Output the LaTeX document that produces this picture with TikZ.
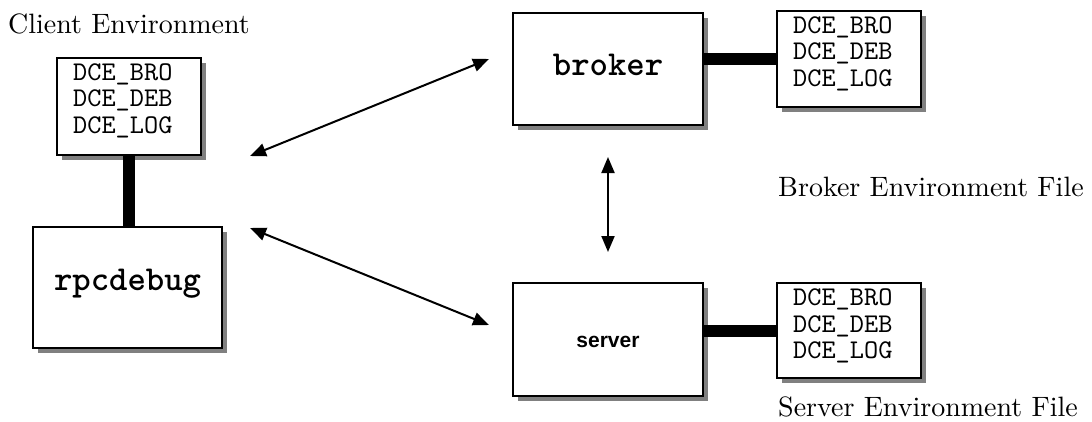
\documentclass[tikz,border=0pt]{standalone}
\usepackage{fontspec}
\newfontfamily\capfont{lmroman10-regular.otf}
\newfontfamily\envmono{lmmono10-regular.otf}
\newfontfamily\procmono{lmmonolt10-bold.otf}
\newfontfamily\labelsans{Liberation Sans}
\usetikzlibrary{shadows,arrows.meta}

\begin{document}
\begin{tikzpicture}[x=1pt,y=-1pt,
  box/.style={draw=black, line width=2pt, fill=white, inner sep=0pt,
    drop shadow={shadow xshift=4.5pt, shadow yshift=-4.5pt, fill=black!50, opacity=1}},
  envbox/.style={box, minimum width=144pt},
  envtext/.style={anchor=north west, inner sep=0pt, align=left,
    font=\fontsize{27}{26.5}\selectfont\envmono},
  procbox/.style={box, font=\fontsize{35}{40}\selectfont\procmono},
  bar/.style={line width=12pt},
  link/.style={line width=2pt, {Triangle[length=16pt,width=13pt]}-{Triangle[length=16pt,width=13pt]}},
  caption/.style={anchor=base west, inner sep=0pt, font=\fontsize{28}{32}\selectfont\capfont}
]
\useasboundingbox (0,0) rectangle (1092,421);

% environment files
\node[envbox, minimum height=97pt] (cenv) at (129,106.5) {};
\node[envbox, minimum height=96pt] (benv) at (849,59) {};
\node[envbox, minimum height=95pt] (senv) at (849,330.5) {};
\node[envtext] (cvars) at ([xshift=17pt,yshift=-6.5pt]cenv.north west) {DCE\_BRO\\DCE\_DEB\\DCE\_LOG};
\node[envtext] (bvars) at ([xshift=17pt,yshift=-6.5pt]benv.north west) {DCE\_BRO\\DCE\_DEB\\DCE\_LOG};
\node[envtext] (svars) at ([xshift=17pt,yshift=-6.5pt]senv.north west) {DCE\_BRO\\DCE\_DEB\\DCE\_LOG};

% processes
\node[procbox, minimum width=189pt, minimum height=121pt, text height=10pt, text depth=5pt]
  (rpc) at (127.5,287.5) {rpcdebug};
\node[procbox, minimum width=190pt, minimum height=112pt, text height=14pt, text depth=2pt]
  (broker) at (608,69) {broker};
\node[box, minimum width=190pt, minimum height=113pt, text height=15pt, text depth=0pt,
  font=\fontsize{21}{25}\selectfont\labelsans\bfseries]
  (server) at (608,339.5) {server};

% thick links to the environment files
\draw[bar] (cenv.south) -- (cenv.south |- rpc.north);
\draw[bar] (broker.east |- benv.west) -- (benv.west);
\draw[bar] (server.east |- senv.west) -- (senv.west);

% captions
\node[caption] (clab) at (8,33) {Client Environment};
\node[caption] (blab) at (778,196) {Broker Environment File};
\node[caption] (slab) at (778,416) {Server Environment File};

% message paths
\coordinate (rpcup) at (250,156);
\coordinate (brokerin) at (489,59);
\coordinate (rpcdown) at (250,228);
\coordinate (serverin) at (489,325);
\coordinate (brokerout) at (608,157);
\coordinate (serverout) at (608,252);
\draw[link] (rpcup) -- (brokerin);
\draw[link] (rpcdown) -- (serverin);
\draw[link] (brokerout) -- (serverout);
\end{tikzpicture}
\end{document}
